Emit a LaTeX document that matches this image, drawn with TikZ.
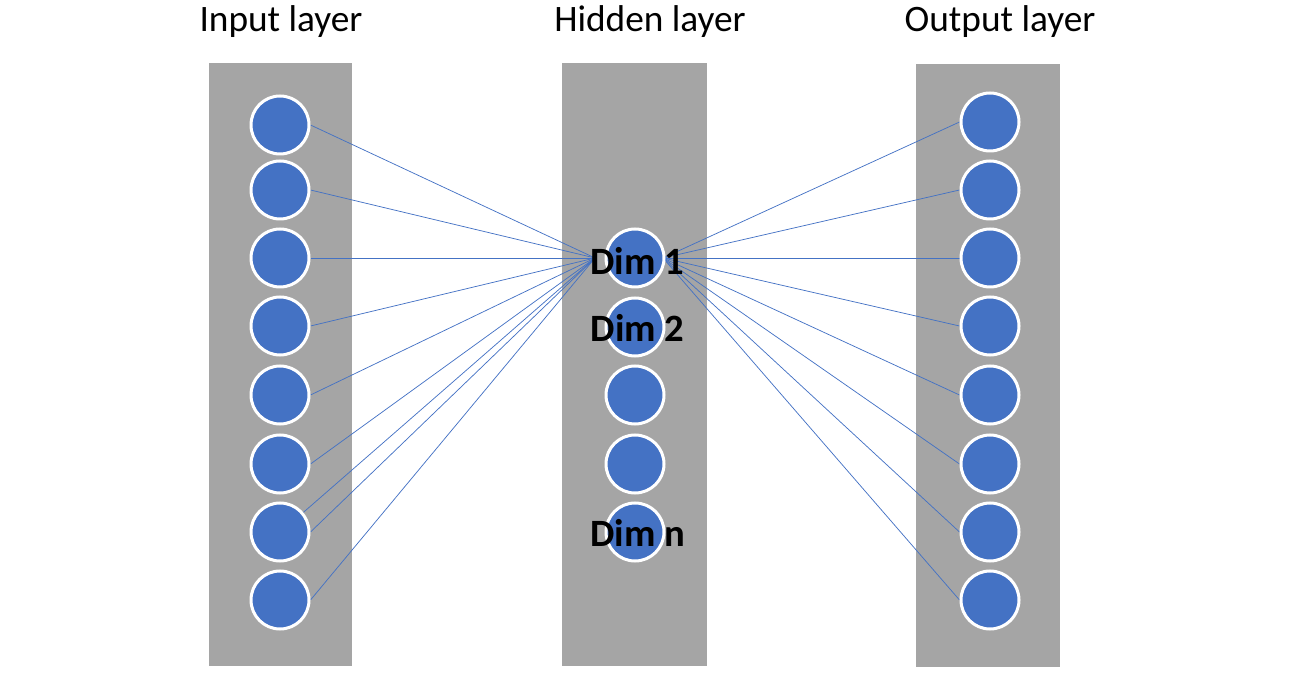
\documentclass[tikz,border=0pt]{standalone}
\usepackage{fontspec}
\setmainfont{Carlito}
\usetikzlibrary{backgrounds}

\definecolor{nnblue}{RGB}{68,114,196}
\definecolor{boxgray}{RGB}{165,165,165}

\tikzset{
  neuron/.style={circle, fill=nnblue, draw=white, line width=2.25pt,
    minimum size=43.5pt, inner sep=0pt},
  layerbox/.style={fill=boxgray},
  link/.style={nnblue, line width=0.55pt},
  title/.style={font=\fontsize{28}{34}\selectfont, inner sep=0pt},
  dimlabel/.style={font=\bfseries\fontsize{29}{34}\selectfont, inner sep=0pt}
}

\begin{document}
\begin{tikzpicture}[x=0.75pt, y=-0.75pt]
  \useasboundingbox (0,0) rectangle (1296,673);
  \begin{scope}[on background layer]
    \fill[layerbox] (209,63) rectangle (352,666);
    \fill[layerbox] (562,63) rectangle (707,666);
    \fill[layerbox] (916,64) rectangle (1060,667);
  \end{scope}
  % titles
  \node[title] (tin)  at (281,22) {Input layer};
  \node[title] (thid) at (650,22) {Hidden layer};
  \node[title] (tout) at (1000,22) {Output layer};
  % neurons
  \foreach \k/\y in {1/125,2/190,3/258,4/326,5/395,6/464,7/532,8/600}
    \node[neuron] (in\k) at (280,\y) {};
  \foreach \k/\y in {1/258,2/327,3/395,4/464,5/532}
    \node[neuron] (hid\k) at (635,\y) {};
  \foreach \k/\y in {1/122,2/190,3/258,4/326,5/395,6/464,7/532,8/600}
    \node[neuron] (out\k) at (990,\y) {};
  % connections into and out of Dim 1
  \coordinate (hl) at ([xshift=-30pt]hid1.center);
  \coordinate (hr) at ([xshift=21pt]hid1.center);
  \begin{scope}[on background layer]
    \foreach \k in {1,...,8}
      \draw[link] (in\k.east) -- (hl);
    \draw[link] (in7.40) -- (hl);
    \foreach \k in {1,...,8}
      \draw[link] (hr) -- (out\k.west);
  \end{scope}
  % labels
  \node[dimlabel] (d1) at ([xshift=1.5pt,yshift=-2pt]hid1.center) {Dim 1};
  \node[dimlabel] (d2) at ([xshift=2pt,yshift=-0.75pt]hid2.center) {Dim 2};
  \node[dimlabel] (dn) at ([xshift=2pt,yshift=-0.75pt]hid5.center) {Dim n};
\end{tikzpicture}
\end{document}
